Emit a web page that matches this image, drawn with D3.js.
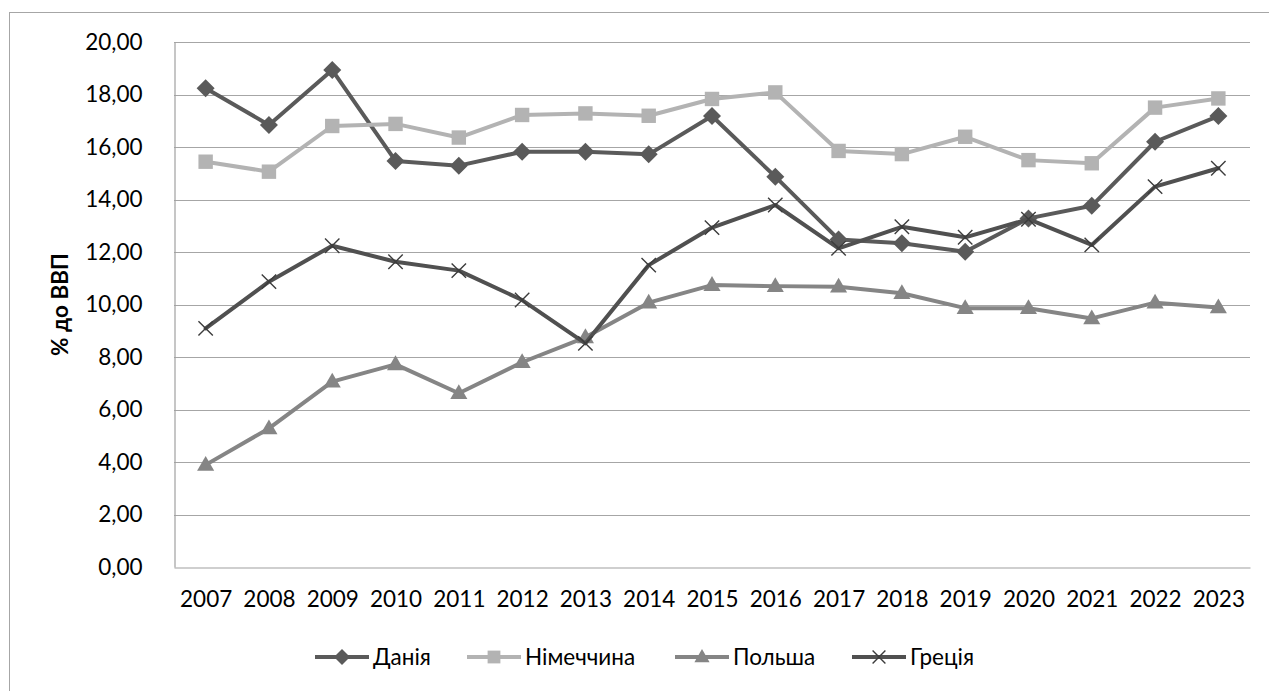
<!DOCTYPE html>
<html lang="uk">
<head>
<meta charset="utf-8">
<script src="https://cdn.jsdelivr.net/npm/d3@7"></script>
<style>
  html, body { margin: 0; padding: 0; background: #fff; }
  svg { display: block; }
  text { font-family: Lato, "Open Sans", "Noto Sans", sans-serif; fill: #000; }
</style>
</head>
<body>
<svg id="chart" width="1269" height="691"></svg>
<script>
// Роки спостереження
const years = ["2007","2008","2009","2010","2011","2012","2013","2014","2015","2016","2017","2018","2019","2020","2021","2022","2023"];

// Показник, % до ВВП
const denmark = [18.24,16.84,18.93,15.47,15.29,15.82,15.82,15.72,17.18,14.87,12.48,12.33,12.01,13.28,13.76,16.20,17.18];
const germany = [15.44,15.06,16.80,16.88,16.36,17.22,17.28,17.19,17.83,18.08,15.85,15.73,16.39,15.50,15.38,17.50,17.85];
const poland  = [3.89,5.28,7.06,7.72,6.62,7.80,8.75,10.07,10.74,10.70,10.68,10.43,9.86,9.86,9.47,10.07,9.89];
const greece  = [9.09,10.87,12.24,11.63,11.29,10.17,8.52,11.50,12.93,13.79,12.14,12.96,12.56,13.25,12.27,14.49,15.19];

const seriesNames = ["Данія","Німеччина","Польша","Греція"];
const yTicks = [0,2,4,6,8,10,12,14,16,18,20];
const yTitle = "% до ВВП";

const series = [
  { name: seriesNames[0], values: denmark, color: "#5a5a5a", marker: "diamond" },
  { name: seriesNames[1], values: germany, color: "#b3b3b3", marker: "square" },
  { name: seriesNames[2], values: poland,  color: "#858585", marker: "triangle" },
  { name: seriesNames[3], values: greece,  color: "#505050", marker: "cross" }
];

const FONT = 22.5;
const svg = d3.select("#chart");
const plot = { left: 174, right: 1250, top: 42, bottom: 567 };

const x = d3.scalePoint().domain(years).range([plot.left, plot.right]).padding(0.5);
const y = d3.scaleLinear().domain([0, 20]).range([plot.bottom, plot.top]);
const fmt = v => d3.format(".2f")(v).replace(".", ",");

// Рамка області діаграми
svg.append("rect")
  .attr("x", 9.5).attr("y", 12.5)
  .attr("width", 1300).attr("height", 700)
  .attr("fill", "none").attr("stroke", "#a6a6a6").attr("stroke-width", 1);

// Горизонтальна сітка
svg.append("g")
  .selectAll("line").data(yTicks.filter(d => d > 0)).join("line")
  .attr("x1", plot.left).attr("x2", plot.right)
  .attr("y1", d => Math.round(y(d)) + 0.5).attr("y2", d => Math.round(y(d)) + 0.5)
  .attr("stroke", "#a6a6a6").attr("stroke-width", 1.2);

// Осі
const yAxis = d3.axisLeft(y).tickValues(yTicks).tickFormat(fmt).tickSize(0).tickPadding(32);
const gy = svg.append("g").attr("transform", `translate(${plot.left + 0.5},0)`).call(yAxis);
gy.select(".domain").attr("stroke", "#a0a0a0").attr("stroke-width", 1.2);
gy.selectAll("text").attr("font-size", FONT).attr("font-family", "Lato, 'Open Sans', sans-serif").attr("fill", "#000");

const xAxis = d3.axisBottom(x).tickSize(0).tickPadding(24);
const gx = svg.append("g").attr("transform", `translate(0,${Math.round(plot.bottom) + 0.5})`).call(xAxis);
gx.select(".domain").attr("stroke", "#a0a0a0").attr("stroke-width", 1.2);
gx.selectAll("text").attr("font-size", FONT).attr("font-family", "Lato, 'Open Sans', sans-serif").attr("fill", "#000");

// Назва осі Y
svg.append("text")
  .attr("transform", `translate(68,${(plot.top + plot.bottom) / 2}) rotate(-90)`)
  .attr("text-anchor", "middle")
  .attr("font-size", FONT).attr("font-weight", "bold")
  .text(yTitle);

// Маркери
function drawMarker(g, type, color, cx, cy, s) {
  if (type === "diamond") {
    g.append("path").attr("d", `M${cx},${cy - s}L${cx + s},${cy}L${cx},${cy + s}L${cx - s},${cy}Z`).attr("fill", color);
  } else if (type === "square") {
    g.append("rect").attr("x", cx - s * 0.8).attr("y", cy - s * 0.8).attr("width", s * 1.6).attr("height", s * 1.6).attr("fill", color);
  } else if (type === "triangle") {
    g.append("path").attr("d", `M${cx},${cy - s}L${cx + s * 0.95},${cy + s * 0.65}L${cx - s * 0.95},${cy + s * 0.65}Z`).attr("fill", color);
  } else if (type === "cross") {
    const r = s * 0.8;
    g.append("path").attr("d", `M${cx - r},${cy - r}L${cx + r},${cy + r}M${cx - r},${cy + r}L${cx + r},${cy - r}`)
      .attr("stroke", "#3c3c3c").attr("stroke-width", 1.4).attr("fill", "none");
  }
}

const line = d3.line().x((d, i) => x(years[i])).y(d => y(d));

series.forEach(s => {
  const g = svg.append("g");
  g.append("path").datum(s.values).attr("d", line)
    .attr("fill", "none").attr("stroke", s.color).attr("stroke-width", 4)
    .attr("stroke-linejoin", "round").attr("stroke-linecap", "round");
  s.values.forEach((v, i) => drawMarker(g, s.marker, s.color, x(years[i]), y(v), 9));
});

// Легенда
const legendItems = [
  { s: series[0], x0: 315 },
  { s: series[1], x0: 467 },
  { s: series[2], x0: 675 },
  { s: series[3], x0: 852 }
];
const ly = 657;
legendItems.forEach(it => {
  const g = svg.append("g");
  const w = 54;
  g.append("line").attr("x1", it.x0).attr("x2", it.x0 + w).attr("y1", ly).attr("y2", ly)
    .attr("stroke", it.s.color).attr("stroke-width", 4);
  drawMarker(g, it.s.marker, it.s.color, it.x0 + w / 2, ly, 8);
  g.append("text").attr("x", it.x0 + w + 4).attr("y", ly + 8)
    .attr("font-size", FONT).text(it.s.name);
});
</script>
</body>
</html>
